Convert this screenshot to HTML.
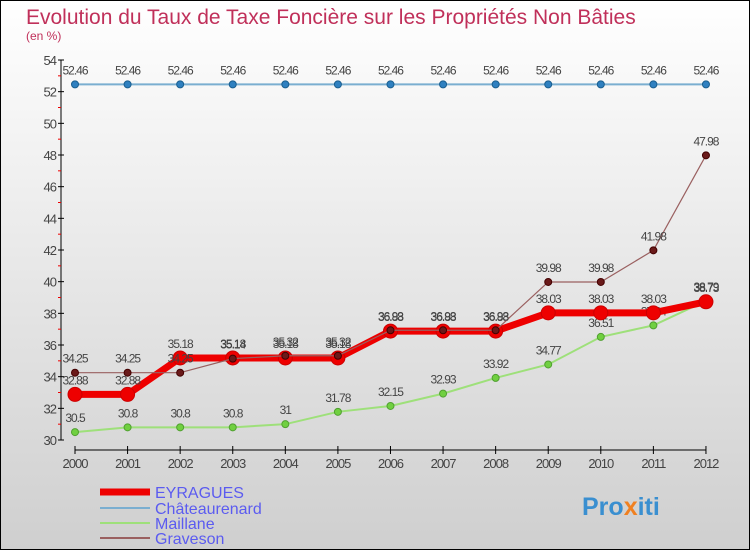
<!DOCTYPE html>
<html><head><meta charset="utf-8"><style>
body{margin:0}
#c{width:750px;height:550px;position:relative;overflow:hidden;font-family:"Liberation Sans",sans-serif}
</style></head><body>
<div id="c">
<svg width="750" height="550" id="svg">
<defs><linearGradient id="bg" x1="0" y1="0" x2="0" y2="1"><stop offset="0" stop-color="#ffffff"/><stop offset="1" stop-color="#cfcfcf"/></linearGradient></defs>
<rect x="0.5" y="0.5" width="749" height="549" fill="url(#bg)" stroke="#000"/>
<text x="26" y="24" font-size="21" fill="#c0305a">Evolution du Taux de Taxe Foncière sur les Propriétés Non Bâties</text>
<text x="26" y="40" font-size="12" fill="#c0305a">(en %)</text>
<g id="axes"></g><g id="series"></g>
<g>
<line x1="100" y1="492" x2="150" y2="492" stroke="#e00" stroke-width="7"/>
<text x="155" y="498" font-size="16" fill="#5b5bf0">EYRAGUES</text>
<line x1="100" y1="508" x2="150" y2="508" stroke="#7aaed0" stroke-width="2"/>
<text x="155" y="514" font-size="16" fill="#5b5bf0">Châteaurenard</text>
<line x1="100" y1="523" x2="150" y2="523" stroke="#9ee07a" stroke-width="2"/>
<text x="155" y="529" font-size="16" fill="#5b5bf0">Maillane</text>
<line x1="100" y1="538" x2="150" y2="538" stroke="#9a6060" stroke-width="2"/>
<text x="155" y="544" font-size="16" fill="#5b5bf0">Graveson</text>
</g>
<text x="582" y="515" font-size="25" font-weight="bold" fill="#3a8fd0">Pro<tspan fill="#f08020">x</tspan>iti</text>
</svg>
</div>
<script>
const years=["2000","2001","2002","2003","2004","2005","2006","2007","2008","2009","2010","2011","2012"];
const yTicks=[30,32,34,36,38,40,42,44,46,48,50,52,54];
const chateaurenard=[52.46,52.46,52.46,52.46,52.46,52.46,52.46,52.46,52.46,52.46,52.46,52.46,52.46];
const maillane=[30.5,30.8,30.8,30.8,31,31.78,32.15,32.93,33.92,34.77,36.51,37.24,38.79];
const graveson=[34.25,34.25,34.25,35.14,35.32,35.32,36.93,36.93,36.93,39.98,39.98,41.98,47.98];
const eyragues=[32.88,32.88,35.18,35.18,35.18,35.18,36.88,36.88,36.88,38.03,38.03,38.03,38.73];
const NS="http://www.w3.org/2000/svg";
const X=i=>75+i*52.58, Y=v=>440-(v-30)*(380/24);
function mk(t,a,p){const e=document.createElementNS(NS,t);for(const k in a)e.setAttribute(k,a[k]);p.appendChild(e);return e;}
const ax=document.getElementById('axes'), sg=document.getElementById('series');
let l=mk('line',{x1:61,y1:60,x2:61,y2:440,stroke:'#000'},ax);


l=mk('line',{x1:75,y1:450,x2:706,y2:450,stroke:'#000'},ax);


yTicks.forEach(v=>{
 mk('line',{x1:58,y1:Y(v),x2:64,y2:Y(v),stroke:'#000'},ax);
 if(v<54) mk('line',{x1:58,y1:Y(v+1),x2:61,y2:Y(v+1),stroke:'#e00'},ax);
 const t=mk('text',{x:56,y:Y(v)+5,'font-size':13,fill:'#444','text-anchor':'end','letter-spacing':'-1'},ax);
 t.textContent=v;
 
 
});
years.forEach((y,i)=>{
 mk('line',{x1:X(i),y1:446,x2:X(i),y2:454,stroke:'#000'},ax);
 const t=mk('text',{x:X(i),y:468,'font-size':13,fill:'#444','text-anchor':'middle','letter-spacing':'-1'},ax);
 t.textContent=y;
 
 
});
function series(d,name,col,w,r,dot,dotStroke){
 const g=mk('g',{},sg);
 
 
 const p=mk('polyline',{points:d.map((v,i)=>X(i)+','+Y(v)).join(' '),fill:'none',stroke:col,'stroke-width':w},g);
 
 
 d.forEach((v,i)=>{
  const c=mk('circle',{cx:X(i),cy:Y(v),r:r,fill:dot,stroke:dotStroke,'stroke-width':1},g);
  
  
  const t=mk('text',{x:X(i),y:Y(v)-10,'font-size':12,fill:'#444','text-anchor':'middle','letter-spacing':'-1'},g);
  t.textContent=v;
  
  
 });
}
series(chateaurenard,'chateaurenard','#7aaed0',2,3.5,'#2f80c0','#1a5f90');
series(maillane,'maillane','#9ee07a',2,3.5,'#70d040','#50a030');
series(eyragues,'eyragues','#e00',7,7,'#e00','#c00');
series(graveson,'graveson','#9a6060',1.2,3.5,'#6a1a1a','#400');
</script>
</body></html>
